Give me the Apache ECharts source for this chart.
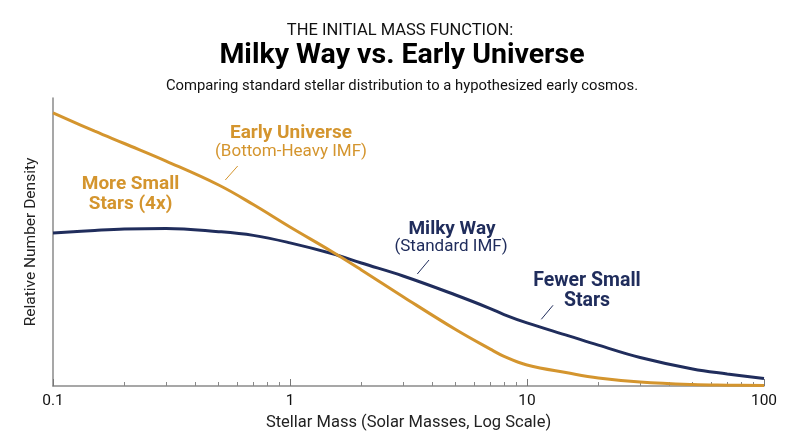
<!DOCTYPE html>
<html>
<head>
<meta charset="utf-8">
<script src="https://cdn.jsdelivr.net/npm/echarts@6/dist/echarts.min.js"></script>
<style>
  html, body { margin: 0; padding: 0; background: #fff; }
  #chart { width: 800px; height: 447px; }
</style>
</head>
<body>
<div id="chart"></div>
<script>
// 星质量（太阳质量，对数轴）
var masses = [0.1, 0.15, 0.2, 0.3, 0.5, 0.7, 1, 1.5, 2, 3, 5, 7, 8, 10, 15, 20, 30, 50, 70, 100];
// 银河系（标准 IMF）
var milkyWay = [53.1, 54.0, 54.5, 54.7, 53.6, 52.3, 49.7, 46.0, 42.7, 38.2, 31.6, 26.9, 24.8, 21.9, 17.4, 14.2, 9.9, 5.9, 4.2, 2.6];
// 早期宇宙（底重 IMF）
var earlyUniverse = [94.8, 88.5, 84.2, 78.1, 69.8, 63.0, 55.2, 46.7, 40.3, 31.0, 19.6, 12.8, 10.3, 7.3, 4.5, 2.8, 1.4, 0.5, 0.3, 0.2];
// 次刻度
var minorTicks = [0.2, 0.3, 0.4, 0.5, 0.6, 0.7, 0.8, 0.9, 2, 3, 4, 5, 6, 7, 8, 9, 20, 30, 40, 50, 60, 70, 80, 90];

var ORANGE = '#D4952E';
var NAVY = '#202D5C';
var FONT = 'Roboto';

function pairs(ys) {
    return masses.map(function (m, i) { return [m, ys[i]]; });
}

var chart = echarts.init(document.getElementById('chart'));

var option = {
    backgroundColor: '#fff',
    textStyle: { fontFamily: FONT },
    grid: { left: 53, right: 36, top: 98, bottom: 61 },
    xAxis: [
        {
            type: 'log',
            logBase: 10,
            min: 0.1,
            max: 100,
            name: 'Stellar Mass (Solar Masses, Log Scale)',
            nameLocation: 'middle',
            nameGap: 25,
            nameTextStyle: { fontSize: 16.5, color: '#222', fontFamily: FONT },
            axisLine: { lineStyle: { color: '#8a8a8a', width: 1.5 } },
            axisTick: { inside: true, length: 7, lineStyle: { color: '#777', width: 1 } },
            axisLabel: {
                fontSize: 15.5, color: '#111', fontFamily: FONT, margin: 7,
                formatter: function (v) { return String(v); }
            },
            splitLine: { show: false }
        },
        {
            type: 'log',
            logBase: 10,
            min: 0.1,
            max: 100,
            position: 'bottom',
            axisLine: { show: false },
            axisTick: { inside: true, length: 4, customValues: minorTicks, lineStyle: { color: '#888', width: 1 } },
            axisLabel: { show: false },
            splitLine: { show: false }
        }
    ],
    yAxis: {
        type: 'value',
        min: 0,
        max: 100,
        name: 'Relative Number Density',
        nameLocation: 'middle',
        nameGap: 14,
        nameRotate: 90,
        nameTextStyle: { fontSize: 15.5, color: '#222', fontFamily: FONT },
        axisLine: { show: true, lineStyle: { color: '#8a8a8a', width: 1.5 } },
        axisTick: { show: false },
        axisLabel: { show: false },
        splitLine: { show: false }
    },
    series: [
        {
            name: 'Milky Way',
            type: 'line',
            smooth: 0.4,
            showSymbol: false,
            data: pairs(milkyWay),
            lineStyle: { color: NAVY, width: 3 },
            itemStyle: { color: NAVY }
        },
        {
            name: 'Early Universe',
            type: 'line',
            smooth: 0.4,
            showSymbol: false,
            data: pairs(earlyUniverse),
            lineStyle: { color: ORANGE, width: 3 },
            itemStyle: { color: ORANGE }
        }
    ],
    graphic: [
        // 标题
        { type: 'text', x: 400, y: 31, style: { text: 'THE INITIAL MASS FUNCTION:', fontSize: 16.5, fontFamily: FONT, fill: '#111', align: 'center', verticalAlign: 'middle' } },
        { type: 'text', x: 402, y: 56, style: { text: 'Milky Way vs. Early Universe', fontSize: 28.5, fontWeight: 'bold', fontFamily: FONT, fill: '#000', align: 'center', verticalAlign: 'middle' } },
        { type: 'text', x: 402, y: 86, style: { text: 'Comparing standard stellar distribution to a hypothesized early cosmos.', fontSize: 14.8, fontFamily: FONT, fill: '#111', align: 'center', verticalAlign: 'middle' } },
        // 注释：早期宇宙
        { type: 'text', x: 291, y: 133, style: { text: 'Early Universe', fontSize: 19, fontWeight: 'bold', fontFamily: FONT, fill: ORANGE, align: 'center', verticalAlign: 'middle' } },
        { type: 'text', x: 291, y: 152, style: { text: '(Bottom-Heavy IMF)', fontSize: 17, fontFamily: FONT, fill: ORANGE, align: 'center', verticalAlign: 'middle' } },
        { type: 'line', shape: { x1: 237.7, y1: 166, x2: 225.3, y2: 180 }, style: { stroke: ORANGE, lineWidth: 1 } },
        { type: 'text', x: 130.5, y: 194, style: { text: 'More Small\nStars (4x)', fontSize: 19, lineHeight: 20, fontWeight: 'bold', fontFamily: FONT, fill: ORANGE, align: 'center', verticalAlign: 'middle' } },
        // 注释：银河系
        { type: 'text', x: 452, y: 229, style: { text: 'Milky Way', fontSize: 19, fontWeight: 'bold', fontFamily: FONT, fill: NAVY, align: 'center', verticalAlign: 'middle' } },
        { type: 'text', x: 451, y: 247, style: { text: '(Standard IMF)', fontSize: 17, fontFamily: FONT, fill: NAVY, align: 'center', verticalAlign: 'middle' } },
        { type: 'line', shape: { x1: 429, y1: 260, x2: 417.3, y2: 274 }, style: { stroke: NAVY, lineWidth: 1 } },
        { type: 'text', x: 587, y: 291, style: { text: 'Fewer Small\nStars', fontSize: 19.5, lineHeight: 20, fontWeight: 'bold', fontFamily: FONT, fill: NAVY, align: 'center', verticalAlign: 'middle' } },
        { type: 'line', shape: { x1: 553, y1: 305.3, x2: 541.3, y2: 319.3 }, style: { stroke: NAVY, lineWidth: 1 } }
    ]
};

chart.setOption(option);
</script>
</body>
</html>
